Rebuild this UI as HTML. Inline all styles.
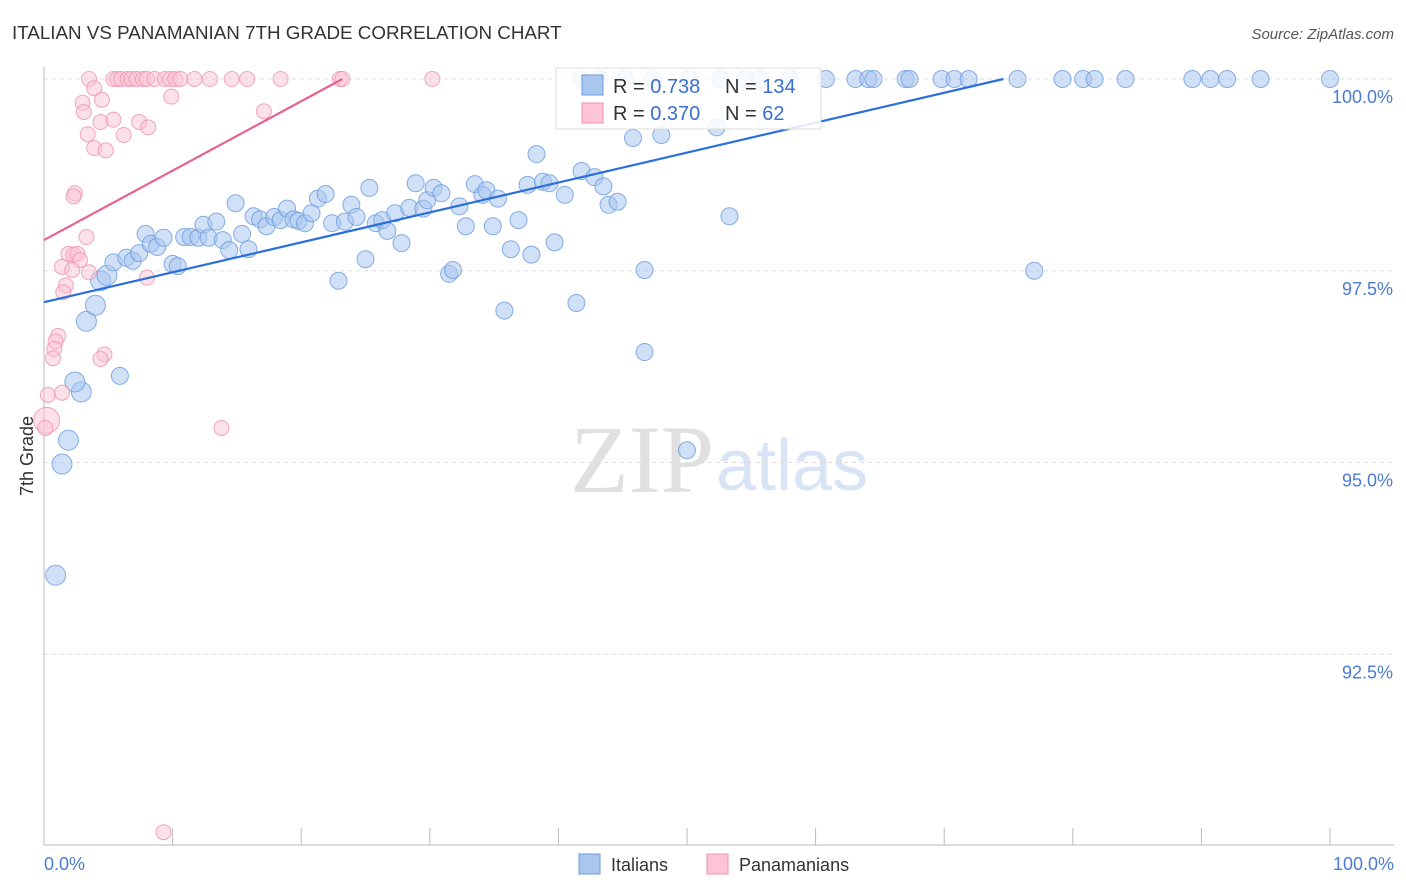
<!DOCTYPE html>
<html><head><meta charset="utf-8"><style>
body{margin:0;background:#fff;font-family:"Liberation Sans",sans-serif;}
svg{display:block}
</style></head><body>
<svg id="chart" width="1406" height="892">
<text x="12" y="39" font-size="18.8" fill="#333">ITALIAN VS PANAMANIAN 7TH GRADE CORRELATION CHART</text>
<text x="1394" y="39" font-size="15" fill="#555" font-style="italic" text-anchor="end">Source: ZipAtlas.com</text>
<text x="714" y="492" font-size="96" fill="#e0e0e0" text-anchor="end" font-family="Liberation Serif">ZIP</text>
<text x="716" y="490" font-size="72" fill="#d8e4f4">atlas</text>
<text transform="translate(33,456) rotate(-90)" font-size="18" fill="#333" text-anchor="middle">7th Grade</text>
<g id="grid"></g><g id="ticks"></g><g id="marks"></g><g id="lines"></g>
<g>
<rect x="556" y="68" width="265" height="61" fill="#fff" fill-opacity="0.85" stroke="#ddd"/>
<rect x="582" y="75" width="21" height="20" fill="#a9c6ef" stroke="#6a9be0"/>
<rect x="582" y="103" width="21" height="20" fill="#fcc4d4" stroke="#ef90ad"/>
<text x="613" y="93" font-size="20" fill="#333">R = <tspan fill="#3a6fd0">0.738</tspan></text>
<text x="725" y="93" font-size="20" fill="#333">N = <tspan fill="#3a6fd0">134</tspan></text>
<text x="613" y="120" font-size="20" fill="#333">R = <tspan fill="#3a6fd0">0.370</tspan></text>
<text x="725" y="120" font-size="20" fill="#333">N = <tspan fill="#3a6fd0">  62</tspan></text>
</g>
<g>
<rect x="579" y="854" width="21" height="20" fill="#a9c6ef" stroke="#6a9be0"/>
<text x="611" y="871" font-size="18" fill="#333">Italians</text>
<rect x="707" y="854" width="21" height="20" fill="#fcc4d4" stroke="#ef90ad"/>
<text x="739" y="871" font-size="18" fill="#333">Panamanians</text>
</g>
</svg>
<script>
const blueX=[0.9,1.4,1.9,2.9,2.4,3.3,4.0,5.9,4.4,4.9,5.4,6.4,6.9,7.4,7.9,8.3,8.8,9.3,10.0,10.4,10.9,11.4,12.0,12.4,12.8,13.4,13.9,14.4,14.9,15.4,15.9,16.3,16.8,17.3,17.9,18.4,18.9,19.4,19.8,20.3,20.8,21.3,21.9,22.4,22.9,23.4,23.9,24.3,25.0,25.3,25.8,26.3,26.7,27.3,27.8,28.4,28.9,29.5,29.8,30.3,30.9,31.5,31.8,32.3,32.8,33.5,34.1,34.4,34.9,35.3,35.8,36.3,36.9,37.6,37.9,38.3,38.8,39.3,39.7,40.5,41.4,41.8,42.8,43.5,43.9,44.6,45.8,46.7,46.7,48.0,50.0,52.3,53.3,77.0,
41.8,43.2,45.2,47.3,50.2,52.6,54.5,55.7,58.0,60.8,63.1,64.1,64.5,67.0,67.3,69.8,70.8,71.9,75.7,79.2,80.8,81.7,84.1,89.3,90.7,92.0,94.6,100];
const blueY=[93.53,94.98,95.29,95.92,96.05,96.84,97.05,96.13,97.37,97.44,97.61,97.67,97.63,97.73,97.98,97.85,97.81,97.93,97.59,97.56,97.94,97.94,97.93,98.10,97.93,98.14,97.90,97.77,98.38,97.98,97.78,98.21,98.17,98.08,98.20,98.16,98.31,98.17,98.15,98.12,98.25,98.44,98.50,98.12,97.37,98.14,98.36,98.20,97.65,98.58,98.12,98.16,98.02,98.25,97.86,98.32,98.64,98.31,98.42,98.58,98.51,97.46,97.51,98.34,98.08,98.63,98.49,98.55,98.08,98.44,96.98,97.78,98.16,98.62,97.71,99.02,98.66,98.64,97.87,98.49,97.08,98.80,98.72,98.60,98.36,98.40,99.23,97.51,96.44,99.27,95.16,99.37,98.21,97.50,
100,100,100,100,100,100,100,100,100,100,100,100,100,100,100,100,100,100,100,100,100,100,100,100,100,100,100,100];
const pinkX=[3.5,5.4,5.7,6.0,6.5,6.8,7.2,7.7,8.0,8.6,9.4,9.8,10.2,10.6,11.7,12.9,14.6,15.8,18.4,23.0,23.2,30.2,
3.0,3.9,3.1,4.5,3.4,4.4,5.4,6.2,7.4,8.1,3.9,4.8,9.9,17.1,2.4,2.3,3.3,1.9,2.3,2.6,2.8,1.4,2.2,3.5,8.0,1.7,1.5,1.1,0.9,0.8,0.7,4.7,4.4,0.3,1.4,0.2,0.1,13.8,9.3];
const pinkY=[100,100,100,100,100,100,100,100,100,100,100,100,100,100,100,100,100,100,100,100,100,100,
99.69,99.88,99.57,99.73,99.28,99.44,99.47,99.27,99.44,99.37,99.10,99.07,99.77,99.58,98.51,98.47,97.94,97.72,97.71,97.72,97.64,97.55,97.51,97.48,97.41,97.31,97.22,96.65,96.58,96.48,96.36,96.41,96.35,95.88,95.91,95.55,95.45,95.45,90.18];
const blueTrend=[[0,97.09],[74.6,100]];
const pinkTrend=[[0,97.9],[23.2,100]];
const yTicks=[100,97.5,95,92.5];
const yTickLabels=["100.0%","97.5%","95.0%","92.5%"];
const xTicks=[0,10,20,30,40,50,60,70,80,90,100];

const NS="http://www.w3.org/2000/svg";
const sx=v=>44+v*12.86;
const sy=v=>79+(100-v)*76.7;
function mk(tag,attrs,parent){const e=document.createElementNS(NS,tag);for(const k in attrs)e.setAttribute(k,attrs[k]);parent.appendChild(e);return e;}
const grid=document.getElementById('grid'),ticks=document.getElementById('ticks'),marks=document.getElementById('marks'),lines=document.getElementById('lines');
yTicks.forEach((t,i)=>{
 const g=mk('line',{x1:44,x2:1394,y1:sy(t),y2:sy(t),stroke:'#ddd','stroke-dasharray':'4,4'},grid);
 
 
 const tx=mk('text',{x:1393,y:sy(t)+24,'font-size':18,fill:'#4a7bd4','text-anchor':'end'},ticks);
 tx.textContent=yTickLabels[i];
 
 
});
const ax=mk('line',{x1:44,x2:44,y1:67,y2:845,stroke:'#bbb'},ticks);


const bx=mk('line',{x1:44,x2:1394,y1:845,y2:845,stroke:'#bbb'},ticks);


xTicks.forEach(t=>{
 const l=mk('line',{x1:sx(t),x2:sx(t),y1:828,y2:845,stroke:'#bbb'},ticks);
 
 
});
const xl0=mk('text',{x:44,y:870,'font-size':18,fill:'#4a7bd4'},ticks);xl0.textContent='0.0%';


const xl1=mk('text',{x:1394,y:870,'font-size':18,fill:'#4a7bd4','text-anchor':'end'},ticks);xl1.textContent='100.0%';


blueX.forEach((x,i)=>{
 const c=mk('circle',{cx:sx(x),cy:sy(blueY[i]),r:x<5?10:8.5,fill:'#a9c6ef','fill-opacity':0.55,stroke:'#6a9be0','stroke-opacity':0.8},marks);
 
 
});
pinkX.forEach((x,i)=>{
 const c=mk('circle',{cx:sx(x),cy:sy(pinkY[i]),r:(x<0.25&&pinkY[i]>95.5&&pinkY[i]<95.6)?13:7.5,fill:'#fcc4d4','fill-opacity':0.5,stroke:'#ef90ad','stroke-opacity':0.8},marks);
 
 
});
const bl=mk('line',{x1:sx(blueTrend[0][0]),y1:sy(blueTrend[0][1]),x2:sx(blueTrend[1][0]),y2:sy(blueTrend[1][1]),stroke:'#2a6fdb','stroke-width':2.2},lines);


const pl=mk('line',{x1:sx(pinkTrend[0][0]),y1:sy(pinkTrend[0][1]),x2:sx(pinkTrend[1][0]),y2:sy(pinkTrend[1][1]),stroke:'#e8628f','stroke-width':2.2},lines);


</script>
</body></html>
